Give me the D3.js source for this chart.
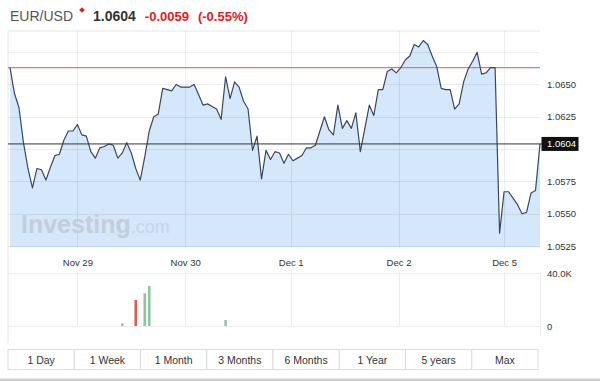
<!DOCTYPE html>
<html>
<head>
<meta charset="utf-8">
<script src="https://cdn.jsdelivr.net/npm/d3@7/dist/d3.min.js"></script>
<style>
  body { margin: 0; background: #fff; }
  svg { display: block; font-family: "Liberation Sans", Arial, sans-serif; }
</style>
</head>
<body>
<script>
// EUR/USD 5-day intraday chart (hourly points)

const w = 600;
const h = 381;

const pair = "EUR/USD";
const lastPrice = 1.0604;
const change = -0.0059;
const changePct = -0.55;
const prevClose = 1.0663;

// hourly closes, Nov 28 morning -> Dec 5 morning
const prices = [
  1.0663, 1.0643, 1.0632, 1.0605, 1.0585, 1.0570, 1.0585, 1.0584, 1.0576, 1.0586,
  1.0595, 1.0596, 1.0607, 1.0614, 1.0614, 1.0619, 1.0611, 1.0610, 1.0598, 1.0593,
  1.0601, 1.0602, 1.0604, 1.0603, 1.0593, 1.0597, 1.0605, 1.0597, 1.0585, 1.0576,
  1.0594, 1.0614, 1.0625, 1.0627, 1.0647, 1.0646, 1.0645, 1.0650, 1.0648, 1.0648,
  1.0648, 1.0650, 1.0642, 1.0634, 1.0635, 1.0633, 1.0631, 1.0623, 1.0656, 1.0639,
  1.0652, 1.0648, 1.0637, 1.0631, 1.0599, 1.0610, 1.0577, 1.0599, 1.0592, 1.0598,
  1.0597, 1.0589, 1.0596, 1.0591, 1.0593, 1.0595, 1.0601, 1.0601, 1.0603, 1.0614,
  1.0625, 1.0615, 1.0611, 1.0634, 1.0616, 1.0622, 1.0616, 1.0628, 1.0598, 1.0616,
  1.0634, 1.0626, 1.0646, 1.0646, 1.0660, 1.0662, 1.0659, 1.0663, 1.0669, 1.0672,
  1.0681, 1.0679, 1.0684, 1.0681, 1.0672, 1.0664, 1.0647, 1.0646, 1.0646, 1.0631,
  1.0635, 1.0652, 1.0662, 1.0668, 1.0675, 1.0658, 1.0659, 1.0663, 1.0663, 1.0535,
  1.0567, 1.0567, 1.0562, 1.0557, 1.0550, 1.0551, 1.0566, 1.0568, 1.0604
];

// the few hours that have a volume bar
const volIndex = [25, 28, 30, 31, 48];
const volValues = [2000, 19600, 24700, 30200, 4500];

const dayLabels = ["Nov 29", "Nov 30", "Dec 1", "Dec 2", "Dec 5"];
const dayIndex = [15, 39, 62.5, 86.5, 110];

const priceGrid = [1.0525, 1.0550, 1.0575, 1.0600, 1.0625, 1.0650, 1.0675];
const priceLabels = [1.0525, 1.0550, 1.0575, 1.0625, 1.0650];
const volTicks = [0, 40000];

const ranges = ["1 Day", "1 Week", "1 Month", "3 Months", "6 Months", "1 Year", "5 years", "Max"];

const left = 8, right = 540;
const plotTop = 31, plotBottom = 247.3;
const volTop = 272, volBottom = 326;

const svg = d3.select("body")
  .append("svg")
  .attr("width", w)
  .attr("height", h);

const x = d3.scaleLinear()
  .domain([0, prices.length - 1])
  .range([10, right]);

const y = d3.scaleLinear()
  .domain([1.0524, 1.0690])
  .range([plotBottom, 32.8]);

const yVol = d3.scaleLinear()
  .domain([0, 40000])
  .range([volBottom, volTop + 1]);

// header
const header = svg.append("text")
  .attr("x", 10)
  .attr("y", 21)
  .attr("font-size", "14px");
header.append("tspan").attr("fill", "#555").text(pair);
header.append("tspan").attr("dx", 20).attr("font-weight", "bold").attr("fill", "#333")
  .text(lastPrice.toFixed(4));
header.append("tspan").attr("dx", 9).attr("font-weight", "bold").attr("fill", "#e0201c")
  .attr("font-size", "13px").text(change.toFixed(4));
header.append("tspan").attr("dx", 9).attr("font-weight", "bold").attr("fill", "#e0201c")
  .attr("font-size", "13px").text(`(${changePct.toFixed(2)}%)`);

svg.append("rect")
  .attr("x", 80).attr("y", 8)
  .attr("width", 4).attr("height", 4)
  .attr("transform", "rotate(45 82 10)")
  .attr("fill", "#e0201c");

// frame
svg.append("line")
  .attr("x1", left).attr("x2", right).attr("y1", plotTop).attr("y2", plotTop)
  .attr("stroke", "#e6e6e6");
svg.append("line")
  .attr("x1", left).attr("x2", left).attr("y1", plotTop).attr("y2", 343)
  .attr("stroke", "#e6e6e6");
svg.append("line")
  .attr("x1", right + 0.5).attr("x2", right + 0.5).attr("y1", volTop).attr("y2", 336)
  .attr("stroke", "#eeeeee");

// area + line
const area = d3.area()
  .x((d, i) => x(i))
  .y0(plotBottom)
  .y1(d => y(d));

const line = d3.line()
  .x((d, i) => x(i))
  .y(d => y(d));

svg.append("path")
  .datum(prices)
  .attr("d", area)
  .attr("fill", "#d5e7fa");

// grid
svg.append("g")
  .selectAll("line")
  .data(priceGrid)
  .enter()
  .append("line")
  .attr("x1", left).attr("x2", right)
  .attr("y1", d => Math.round(y(d)) + 0.5)
  .attr("y2", d => Math.round(y(d)) + 0.5)
  .attr("stroke", "rgba(0,0,0,0.07)");

svg.append("g")
  .selectAll("line")
  .data(dayIndex)
  .enter()
  .append("line")
  .attr("x1", d => Math.round(x(d)) + 0.5)
  .attr("x2", d => Math.round(x(d)) + 0.5)
  .attr("y1", plotTop)
  .attr("y2", plotBottom)
  .attr("stroke", "rgba(0,0,0,0.07)");

// watermark
const mark = svg.append("text")
  .attr("x", 21)
  .attr("y", 233);
mark.append("tspan")
  .attr("font-size", "25px")
  .attr("font-weight", "bold")
  .attr("fill", "#c3cedc")
  .text("Investing");
mark.append("tspan")
  .attr("font-size", "18px")
  .attr("fill", "#c6d6ea")
  .text(".com");

// previous close and last price lines
svg.append("line")
  .attr("x1", left).attr("x2", right)
  .attr("y1", y(prevClose)).attr("y2", y(prevClose))
  .attr("stroke", "#e07a7a")
  .attr("stroke-width", 1.2);

svg.append("path")
  .datum(prices)
  .attr("d", line)
  .attr("fill", "none")
  .attr("stroke", "#3a4760")
  .attr("stroke-width", 1.2)
  .attr("stroke-linejoin", "round");

svg.append("line")
  .attr("x1", left).attr("x2", right + 2)
  .attr("y1", y(lastPrice)).attr("y2", y(lastPrice))
  .attr("stroke", "#333")
  .attr("stroke-width", 1);

// price axis
const yAxis = svg.append("g")
  .attr("transform", `translate(${right},0)`)
  .call(d3.axisRight(y).tickValues(priceLabels).tickSize(0).tickPadding(7)
    .tickFormat(d3.format(".4f")));
yAxis.select(".domain").remove();
yAxis.selectAll("text").attr("font-size", "9.5px").attr("fill", "#333")
  .attr("font-family", "Liberation Sans, Arial, sans-serif");

svg.append("rect")
  .attr("x", 541.5)
  .attr("y", y(lastPrice) - 7)
  .attr("width", 37)
  .attr("height", 14)
  .attr("fill", "#111");
svg.append("text")
  .attr("x", 547)
  .attr("y", y(lastPrice))
  .attr("dy", "0.34em")
  .attr("font-size", "9.5px")
  .attr("fill", "#fff")
  .text(lastPrice.toFixed(4));

// date axis
const xAxis = svg.append("g")
  .attr("transform", "translate(0,252)")
  .call(d3.axisBottom(x).tickValues(dayIndex).tickSize(0).tickPadding(7)
    .tickFormat((d, i) => dayLabels[i]));
xAxis.select(".domain").remove();
xAxis.selectAll("text").attr("font-size", "9.5px").attr("fill", "#333")
  .attr("font-family", "Liberation Sans, Arial, sans-serif");

// volume panel
svg.append("g")
  .selectAll("line")
  .data(volTicks)
  .enter()
  .append("line")
  .attr("x1", left).attr("x2", right)
  .attr("y1", d => Math.round(yVol(d)) + 0.5)
  .attr("y2", d => Math.round(yVol(d)) + 0.5)
  .attr("stroke", "#ececec");

svg.append("g")
  .selectAll("line")
  .data(dayIndex)
  .enter()
  .append("line")
  .attr("x1", d => Math.round(x(d)) + 0.5)
  .attr("x2", d => Math.round(x(d)) + 0.5)
  .attr("y1", volTop)
  .attr("y2", volBottom)
  .attr("stroke", "#ececec");

svg.append("g")
  .selectAll("rect")
  .data(volIndex)
  .enter()
  .append("rect")
  .attr("x", d => x(d) - 1.3)
  .attr("y", (d, i) => yVol(volValues[i]))
  .attr("width", 2.6)
  .attr("height", (d, i) => volBottom - yVol(volValues[i]))
  .attr("fill", d => prices[d] < prices[d - 1] ? "#dd5a55" : "#8cc79c");

const vAxis = svg.append("g")
  .attr("transform", `translate(${right},0)`)
  .call(d3.axisRight(yVol).tickValues(volTicks).tickSize(0).tickPadding(7)
    .tickFormat(d => d === 0 ? "0" : d3.format(".1f")(d / 1000) + "K"));
vAxis.select(".domain").remove();
vAxis.selectAll("text").attr("font-size", "9.5px").attr("fill", "#333")
  .attr("font-family", "Liberation Sans, Arial, sans-serif");

// range buttons
const band = d3.scaleBand()
  .domain(ranges)
  .range([left, 538]);

const btn = svg.append("g")
  .selectAll("g")
  .data(ranges)
  .enter()
  .append("g")
  .attr("transform", d => `translate(${band(d)},349.5)`);

btn.append("rect")
  .attr("width", band.bandwidth())
  .attr("height", 20)
  .attr("fill", "#fff")
  .attr("stroke", "#dcdcdc");

btn.append("text")
  .attr("x", band.bandwidth() / 2)
  .attr("y", 14)
  .attr("text-anchor", "middle")
  .attr("font-size", "10.5px")
  .attr("fill", "#333")
  .text(d => d);

svg.append("rect")
  .attr("x", 0).attr("y", 378.5)
  .attr("width", w).attr("height", 2.5)
  .attr("fill", "#cfcfcf");
</script>
</body>
</html>
